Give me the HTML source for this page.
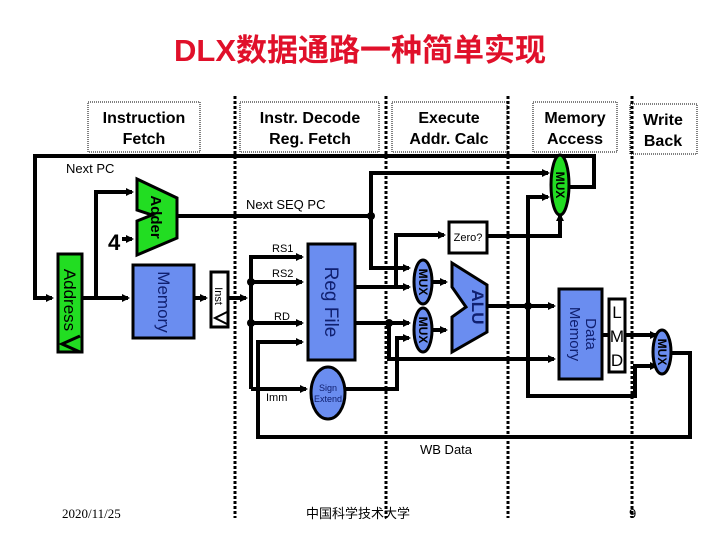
<!DOCTYPE html>
<html><head><meta charset="utf-8"><style>
html,body{margin:0;padding:0;background:#fff;width:720px;height:540px;overflow:hidden}
svg{display:block}
.hd{font-family:"Comic Sans MS","Liberation Sans",sans-serif;font-weight:bold;font-size:16px;text-anchor:middle}
.sm{font-family:"Liberation Sans",sans-serif;font-size:11px}
</style></head><body>
<svg width="720" height="540" viewBox="0 0 720 540" xmlns="http://www.w3.org/2000/svg">
<defs>
<marker id="a" markerWidth="8" markerHeight="8" refX="6" refY="4" orient="auto" markerUnits="userSpaceOnUse"><path d="M0,0 L8,4 L0,8 z" fill="#000"/></marker>
</defs>
<text x="360" y="61" fill="#e0102a" font-family="Liberation Sans,'Noto Sans CJK SC',sans-serif" font-weight="bold" font-size="31" text-anchor="middle">DLX数据通路一种简单实现</text>

<g fill="none" stroke="#000" stroke-width="1" stroke-dasharray="1,1">
<rect x="88" y="102" width="112" height="50"/>
<rect x="240" y="102" width="139" height="50"/>
<rect x="392" y="102" width="115" height="50"/>
<rect x="533" y="102" width="84" height="50"/>
<rect x="630" y="104" width="67" height="50"/>
</g>
<g class="hd">
<text x="144" y="123">Instruction</text><text x="144" y="144">Fetch</text>
<text x="310" y="123">Instr. Decode</text><text x="310" y="144">Reg. Fetch</text>
<text x="449" y="123">Execute</text><text x="449" y="144">Addr. Calc</text>
<text x="575" y="123">Memory</text><text x="575" y="144">Access</text>
<text x="663" y="125">Write</text><text x="663" y="146">Back</text>
</g>

<g stroke="#000" stroke-width="3" stroke-dasharray="3,2">
<line x1="235" y1="96" x2="235" y2="518"/>
<line x1="386" y1="96" x2="386" y2="518"/>
<line x1="508" y1="96" x2="508" y2="518"/>
<line x1="632" y1="96" x2="632" y2="518"/>
</g>

<g fill="none" stroke="#000" stroke-width="4">
<polyline points="567,187 594,187 594,156 35,156 35,298 52,298" marker-end="url(#a)"/>
<polyline points="82,298 128,298" marker-end="url(#a)"/>
<polyline points="96,298 96,192 132,192" marker-end="url(#a)"/>
<polyline points="122,239 132,239" marker-end="url(#a)"/>
<polyline points="177,216 371,216"/>
<polyline points="371,216 371,173 548,173" marker-end="url(#a)"/>
<polyline points="371,216 371,268 409,268" marker-end="url(#a)"/>
<polyline points="194,298 206,298" marker-end="url(#a)"/>
<polyline points="228,298 246,298" marker-end="url(#a)"/>
<polyline points="251,389 251,257 302,257" marker-end="url(#a)"/>
<polyline points="251,282 302,282" marker-end="url(#a)"/>
<polyline points="251,323 302,323" marker-end="url(#a)"/>
<polyline points="251,389 306,389" marker-end="url(#a)"/>
<polyline points="670,353 690,353 690,437 258,437 258,342 302,342" marker-end="url(#a)"/>
<polyline points="355,287 409,287" marker-end="url(#a)"/>
<polyline points="355,323 409,323" marker-end="url(#a)"/>
<polyline points="396,287 396,235 444,235" marker-end="url(#a)"/>
<polyline points="487,236 560,236 560,215" marker-end="url(#a)"/>
<polyline points="389,323 389,359 554,359" marker-end="url(#a)"/>
<polyline points="345,389 397,389 397,338 409,338" marker-end="url(#a)"/>
<polyline points="431,282 446,282" marker-end="url(#a)"/>
<polyline points="431,330 446,330" marker-end="url(#a)"/>
<polyline points="487,306 554,306" marker-end="url(#a)"/>
<polyline points="528,306 528,197 548,197" marker-end="url(#a)"/>
<polyline points="528,306 528,396 635,396 635,366 656,366" marker-end="url(#a)"/>
<polyline points="602,335 656,335" marker-end="url(#a)"/>
</g>
<g fill="#000">
<circle cx="371" cy="216" r="4"/><circle cx="251" cy="282" r="4"/><circle cx="251" cy="323" r="4"/>
<circle cx="389" cy="323" r="4"/><circle cx="528" cy="306" r="4"/>
</g>

<rect x="58" y="254" width="24" height="98" fill="#22dd22" stroke="#000" stroke-width="3"/>
<polyline points="80,336 62,344 80,352" fill="none" stroke="#000" stroke-width="3"/>
<text transform="translate(64,300) rotate(90)" font-family="Liberation Sans,sans-serif" font-size="17" text-anchor="middle">Address</text>
<polygon points="137,179 177,198 177,238 137,255 137,221 152,215 137,210" fill="#22dd22" stroke="#000" stroke-width="3"/>
<text transform="translate(151,217) rotate(90)" font-family="Liberation Sans,sans-serif" font-weight="bold" font-size="15" text-anchor="middle">Adder</text>
<text x="108" y="250" font-family="Liberation Sans,sans-serif" font-weight="bold" font-size="22">4</text>
<rect x="133" y="265" width="61" height="73" fill="#6a8df0" stroke="#000" stroke-width="3"/>
<text transform="translate(158,302) rotate(90)" font-family="Liberation Sans,sans-serif" font-size="17" fill="#102070" text-anchor="middle">Memory</text>
<rect x="211" y="272" width="17" height="55" fill="#fff" stroke="#000" stroke-width="3"/>
<polyline points="227,312 215,318 227,324" fill="none" stroke="#000" stroke-width="2"/>
<text transform="translate(215,296) rotate(90)" class="sm" text-anchor="middle">Inst</text>
<text x="66" y="173" font-family="Liberation Sans,sans-serif" font-size="13">Next PC</text>
<text x="246" y="209" font-family="Liberation Sans,sans-serif" font-size="13">Next SEQ PC</text>
<text x="272" y="252" class="sm">RS1</text>
<text x="272" y="277" class="sm">RS2</text>
<text x="274" y="320" class="sm">RD</text>
<text x="266" y="401" class="sm">Imm</text>
<text x="420" y="454" font-family="Liberation Sans,sans-serif" font-size="13">WB Data</text>
<rect x="308" y="244" width="47" height="116" fill="#6a8df0" stroke="#000" stroke-width="3"/>
<text transform="translate(325,302) rotate(90)" font-family="Liberation Sans,sans-serif" font-size="19" fill="#102070" text-anchor="middle">Reg File</text>
<ellipse cx="328" cy="393" rx="17" ry="26" fill="#6a8df0" stroke="#000" stroke-width="3"/>
<text x="328" y="391" font-family="Liberation Sans,sans-serif" font-size="9" text-anchor="middle" fill="#102070">Sign</text>
<text x="328" y="402" font-family="Liberation Sans,sans-serif" font-size="9" text-anchor="middle" fill="#102070">Extend</text>
<rect x="449" y="222" width="38" height="31" fill="#fff" stroke="#000" stroke-width="3"/>
<text x="468" y="241" class="sm" text-anchor="middle">Zero?</text>
<g font-family="Liberation Sans,sans-serif" font-size="12" font-weight="bold" text-anchor="middle">
<ellipse cx="423" cy="282" rx="9" ry="22" fill="#6a8df0" stroke="#000" stroke-width="3"/>
<text transform="translate(419,282) rotate(90)">MUX</text>
<ellipse cx="423" cy="330" rx="9" ry="22" fill="#6a8df0" stroke="#000" stroke-width="3"/>
<text transform="translate(419,330) rotate(90)">MUX</text>
<ellipse cx="560" cy="185" rx="9" ry="30" fill="#22dd22" stroke="#000" stroke-width="3"/>
<text transform="translate(556,185) rotate(90)">MUX</text>
<ellipse cx="662" cy="352" rx="9" ry="22" fill="#6a8df0" stroke="#000" stroke-width="3"/>
<text transform="translate(658,352) rotate(90)">MUX</text>
</g>
<polygon points="452,263 487,285 487,332 452,352 452,317 466,307 452,287" fill="#6a8df0" stroke="#000" stroke-width="3"/>
<text transform="translate(472,307) rotate(90)" font-family="Liberation Sans,sans-serif" font-weight="bold" font-size="17" text-anchor="middle" fill="#102070">ALU</text>
<rect x="559" y="289" width="43" height="90" fill="#6a8df0" stroke="#000" stroke-width="3"/>
<text transform="translate(586,334) rotate(90)" font-family="Liberation Sans,sans-serif" font-size="15" fill="#102070" text-anchor="middle">Data</text>
<text transform="translate(570,334) rotate(90)" font-family="Liberation Sans,sans-serif" font-size="15" fill="#102070" text-anchor="middle">Memory</text>
<rect x="609" y="299" width="16" height="73" fill="#fff" stroke="#000" stroke-width="3"/>
<g font-family="Liberation Sans,sans-serif" font-size="17" text-anchor="middle">
<text x="617" y="318">L</text><text x="617" y="342">M</text><text x="617" y="366">D</text>
</g>
<text x="62" y="518" font-family="Liberation Serif,serif" font-size="13">2020/11/25</text>
<text x="306" y="518" font-family="'Liberation Sans','Noto Sans CJK SC',sans-serif" font-size="13">中国科学技术大学</text>
<text x="629" y="518" font-family="Liberation Sans,sans-serif" font-size="13">9</text>
</svg>
</body></html>
